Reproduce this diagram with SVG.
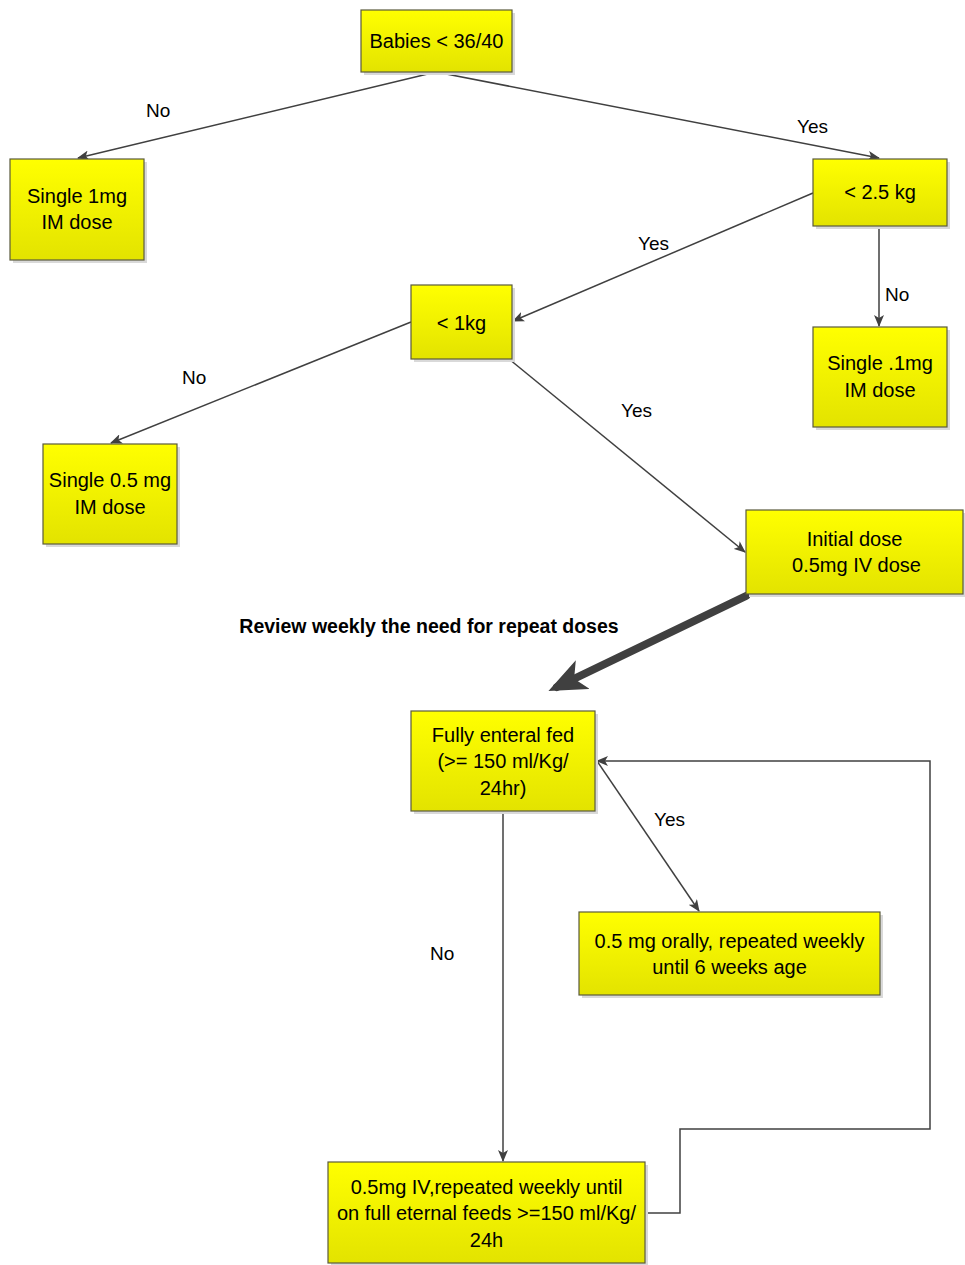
<svg xmlns="http://www.w3.org/2000/svg" width="965" height="1265" viewBox="0 0 965 1265">
<style>
.box{fill:url(#yg);stroke:#5a5a3c;stroke-width:1.2}
.sh{fill:#d9d9d9}
.t{font-family:"Liberation Sans",Arial,sans-serif;font-size:20px;fill:#000;text-anchor:middle}
.lb{font-family:"Liberation Sans",Arial,sans-serif;font-size:19px;fill:#000}
.c{fill:none;stroke:#404040;stroke-width:1.5}
</style>
<defs>
<linearGradient id="yg" x1="0" y1="0" x2="0" y2="1">
<stop offset="0" stop-color="#ffff00"/>
<stop offset="1" stop-color="#e3e300"/>
</linearGradient>
<marker id="ah" viewBox="0 0 12 10" refX="11" refY="5" markerWidth="12" markerHeight="10" markerUnits="userSpaceOnUse" orient="auto">
<path d="M0,0 L12,5 L0,10 L3,5 z" fill="#404040"/>
</marker>
<marker id="ahb" viewBox="0 0 12 10" refX="9" refY="5" markerWidth="38" markerHeight="32" markerUnits="userSpaceOnUse" orient="auto">
<path d="M0,0 L12,5 L0,10 L3,5 z" fill="#404040"/>
</marker>
</defs>
<g id="connectors">
<line class="c" x1="436" y1="72" x2="78" y2="158" marker-end="url(#ah)"/>
<line class="c" x1="436" y1="72" x2="879" y2="158" marker-end="url(#ah)"/>
<line class="c" x1="813" y1="193" x2="513" y2="321" marker-end="url(#ah)"/>
<path class="c" d="M896,227 L879,227 L879,326" marker-end="url(#ah)"/>
<line class="c" x1="411" y1="322" x2="111" y2="443" marker-end="url(#ah)"/>
<line class="c" x1="509" y1="359" x2="745" y2="552" marker-end="url(#ah)"/>
<line x1="746" y1="596" x2="557" y2="687" stroke="#404040" stroke-width="8" stroke-linecap="round" marker-end="url(#ahb)"/>
<line class="c" x1="503" y1="811" x2="503" y2="1161" marker-end="url(#ah)"/>
<line class="c" x1="597" y1="761" x2="699" y2="911" marker-end="url(#ah)"/>
<path class="c" d="M645,1213 L680,1213 L680,1129 L930,1129 L930,761 L597,761" marker-end="url(#ah)"/>
<text class="lb" x="146" y="117">No</text>
<text class="lb" x="797" y="133">Yes</text>
<text class="lb" x="638" y="250">Yes</text>
<text class="lb" x="885" y="301">No</text>
<text class="lb" x="182" y="384">No</text>
<text class="lb" x="621" y="417">Yes</text>
<text class="lb" x="430" y="960">No</text>
<text class="lb" x="654" y="826">Yes</text>
<text x="429" y="633" font-family="'Liberation Sans',Arial,sans-serif" font-size="19.5px" font-weight="bold" text-anchor="middle" fill="#000">Review weekly the need for repeat doses</text>
</g>
<g id="n1"><rect class="sh" x="364" y="13" width="151" height="62"/><rect class="box" x="361" y="10" width="151" height="62"/><text class="t" x="436.5" y="48">Babies &lt; 36/40</text></g>
<g id="n2"><rect class="sh" x="13" y="162" width="134" height="101"/><rect class="box" x="10" y="159" width="134" height="101"/><text class="t" x="77" y="203">Single 1mg</text><text class="t" x="77" y="229">IM dose</text></g>
<g id="n3"><rect class="sh" x="816" y="162" width="134" height="67"/><rect class="box" x="813" y="159" width="134" height="67"/><text class="t" x="880" y="199">&lt; 2.5 kg</text></g>
<g id="n4"><rect class="sh" x="414" y="288" width="101" height="74"/><rect class="box" x="411" y="285" width="101" height="74"/><text class="t" x="461.5" y="330">&lt; 1kg</text></g>
<g id="n5"><rect class="sh" x="816" y="330" width="134" height="100"/><rect class="box" x="813" y="327" width="134" height="100"/><text class="t" x="880" y="370">Single .1mg</text><text class="t" x="880" y="397">IM dose</text></g>
<g id="n6"><rect class="sh" x="46" y="447" width="134" height="100"/><rect class="box" x="43" y="444" width="134" height="100"/><text class="t" x="110" y="487">Single 0.5 mg</text><text class="t" x="110" y="514">IM dose</text></g>
<g id="n7"><rect class="sh" x="749" y="513" width="217" height="84"/><rect class="box" x="746" y="510" width="217" height="84"/><text class="t" x="854.5" y="546">Initial dose</text><text class="t" x="856.5" y="572">0.5mg IV dose</text></g>
<g id="n8"><rect class="sh" x="414" y="714" width="184" height="100"/><rect class="box" x="411" y="711" width="184" height="100"/><text class="t" x="503" y="742">Fully enteral fed</text><text class="t" x="503" y="768">(&gt;= 150 ml/Kg/</text><text class="t" x="503" y="795">24hr)</text></g>
<g id="n9"><rect class="sh" x="582" y="915" width="301" height="83"/><rect class="box" x="579" y="912" width="301" height="83"/><text class="t" x="729.5" y="948">0.5 mg orally, repeated weekly</text><text class="t" x="729.5" y="974">until 6 weeks age</text></g>
<g id="n10"><rect class="sh" x="331" y="1165" width="317" height="101"/><rect class="box" x="328" y="1162" width="317" height="101"/><text class="t" x="486.5" y="1194">0.5mg IV,repeated weekly until</text><text class="t" x="486.5" y="1220">on full eternal feeds &gt;=150 ml/Kg/</text><text class="t" x="486.5" y="1247">24h</text></g>
</svg>
